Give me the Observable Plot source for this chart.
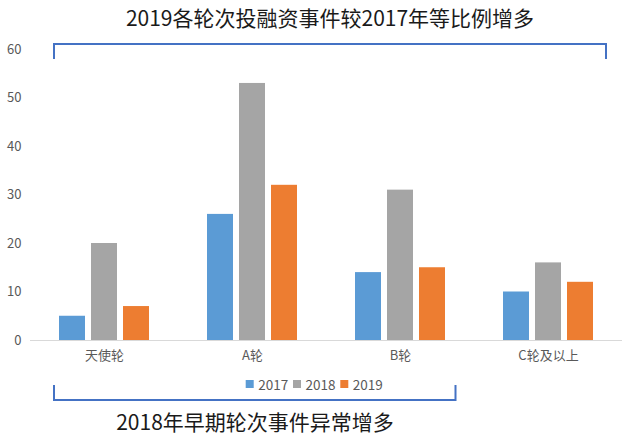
<!DOCTYPE html>
<html>
<head>
<meta charset="utf-8">
<script src="https://cdn.jsdelivr.net/npm/d3@7"></script>
<script src="https://cdn.jsdelivr.net/npm/@observablehq/plot@0.6"></script>
<style>
  html, body { margin: 0; padding: 0; background: #fff; }
  #chart svg { display: block; }
</style>
</head>
<body>
<div id="chart"></div>
<script>
const categories = ["天使轮", "A轮", "B轮", "C轮及以上"];
const years = ["2017", "2018", "2019"];
const v2017 = [5, 26, 14, 10];
const v2018 = [20, 53, 31, 16];
const v2019 = [7, 32, 15, 12];
const colors = ["#5B9BD5", "#A5A5A5", "#ED7D31"];
const yTicks = [0, 10, 20, 30, 40, 50, 60];
const titleText = "2019各轮次投融资事件较2017年等比例增多";
const noteText = "2018年早期轮次事件异常增多";

const series = [v2017, v2018, v2019];
const data = categories.flatMap((c, i) =>
  years.map((y, j) => ({ category: c, year: y, value: series[j][i] }))
);

const font = "'Noto Sans CJK SC', 'Noto Sans', sans-serif";

const plot = Plot.plot({
  width: 640,
  height: 437,
  marginTop: 49,
  marginBottom: 97,
  marginLeft: 30,
  marginRight: 18,
  style: { fontFamily: font, fontSize: "13px", color: "#595959", background: "white" },
  y: { domain: [0, 60], ticks: yTicks, tickSize: 0, tickPadding: 9, label: null, axis: "left" },
  fx: { domain: categories, padding: 0, tickSize: 0, tickPadding: 10, label: null, axis: "bottom" },
  x: { domain: years, paddingInner: 0.2, paddingOuter: 0.865, axis: null },
  color: { domain: years, range: colors },
  marks: [
    Plot.barY(data, { fx: "category", x: "year", y: "value", fill: "year" }),
    Plot.ruleY([0], { stroke: "#d9d9d9", strokeWidth: 1 })
  ]
});

document.getElementById("chart").appendChild(plot);

const svg = d3.select(plot);
const ann = svg.append("g").attr("font-family", font);

// title
ann.append("text")
  .attr("x", 330).attr("y", 17)
  .attr("text-anchor", "middle").attr("dominant-baseline", "central")
  .attr("font-size", 21).attr("fill", "#1a1a1a")
  .text(titleText);

// brackets
ann.append("path")
  .attr("d", "M54,59V44H606V59")
  .attr("fill", "none").attr("stroke", "#4472C4").attr("stroke-width", 2);
ann.append("path")
  .attr("d", "M54,385V400H455.5V385")
  .attr("fill", "none").attr("stroke", "#4472C4").attr("stroke-width", 2);

// note
ann.append("text")
  .attr("x", 255).attr("y", 421)
  .attr("text-anchor", "middle").attr("dominant-baseline", "central")
  .attr("font-size", 21).attr("fill", "#1a1a1a")
  .text(noteText);

// legend
const lg = ann.append("g");
years.forEach((y, i) => {
  const x0 = 245.7 + i * 47.3;
  lg.append("rect").attr("x", x0).attr("y", 380).attr("width", 8).attr("height", 8).attr("fill", colors[i]);
  lg.append("text").attr("x", x0 + 12.5).attr("y", 384)
    .attr("text-anchor", "start")
    .attr("dominant-baseline", "central").attr("font-size", 13.5).attr("fill", "#595959")
    .text(y);
});
</script>
</body>
</html>
